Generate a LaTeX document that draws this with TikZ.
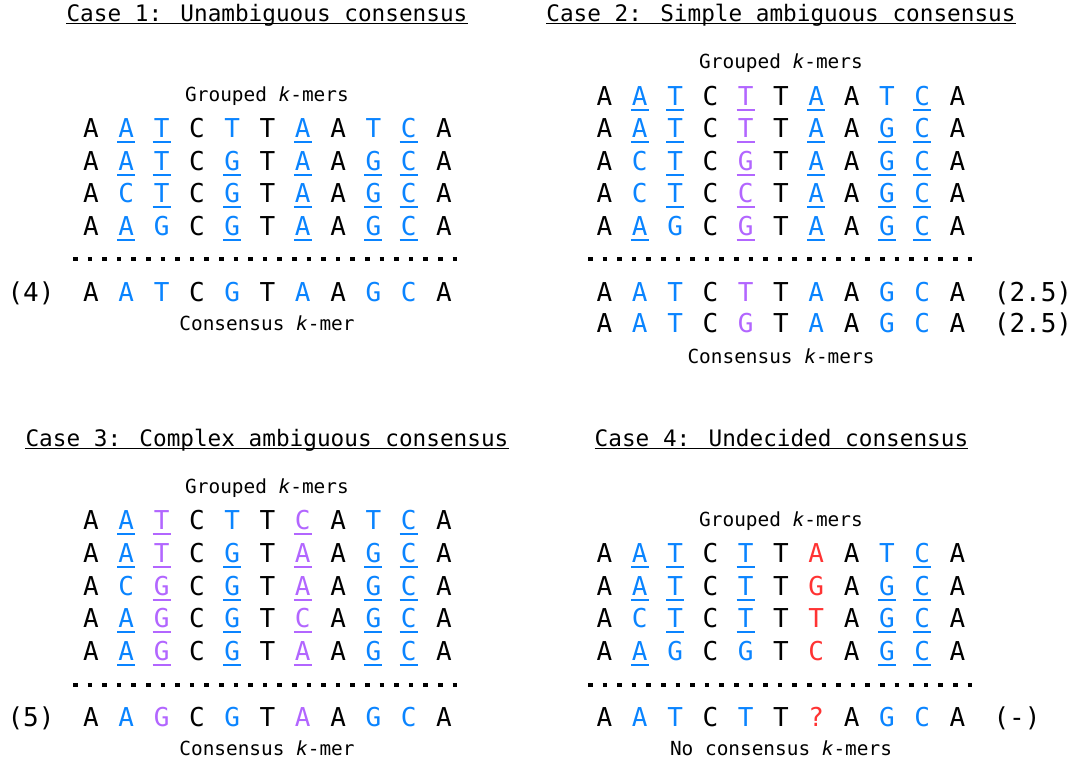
\documentclass[tikz,border=0pt]{standalone}
\usepackage{fontspec}
\newfontfamily\monof{DejaVu Sans Mono}
\definecolor{kk}{HTML}{000000}
\definecolor{kb}{HTML}{0A84FF}
\definecolor{kp}{HTML}{B266FF}
\definecolor{kr}{HTML}{FF3333}
\tikzset{
  nuc/.style={font=\monof\fontsize{26}{26}\selectfont, inner sep=0pt, text height=19pt, text depth=0pt, anchor=center},
  ulin/.style={line width=2pt},
  lbl/.style={font=\monof\fontsize{19.4}{19.4}\selectfont, inner sep=0pt, anchor=base},
  ttl/.style={font=\monof\fontsize{22.7}{22.7}\selectfont, inner sep=0pt, anchor=base},
  dotline/.style={line width=4.6pt, dash pattern=on 4.6pt off 10pt},
}
\newcommand\kmrow[4]{%
  \foreach[count=\ki] \kc/\kl/\ku in {#4}{%
    \node[nuc,text=\kc] (#1-\ki) at ({#2+(\ki-1)*35.3},#3) {\kl};
    \ifnum\ku=1 \draw[ulin,draw=\kc] ([xshift=-9pt,yshift=-14pt]#1-\ki.center) -- ([xshift=9pt,yshift=-14pt]#1-\ki.center);\fi
  }%
}
\begin{document}
\begin{tikzpicture}[x=1pt,y=-1pt]
\useasboundingbox (0,0) rectangle (1080,763);

% ---------- Titles ----------
\node[ttl] (t1) at (267,21) {Case 1: Unambiguous consensus};
\node[ttl] (t2) at (781,21) {Case 2: Simple ambiguous consensus};
\node[ttl] (t3) at (267,446) {Case 3: Complex ambiguous consensus};
\node[ttl] (t4) at (781.5,446) {Case 4: Undecided consensus};
\foreach \t in {t1,t2,t3,t4}{
  \draw[line width=1.4pt] ([yshift=-2.2pt]\t.base west) -- ([yshift=-2.2pt]\t.base east);
}

% ---------- Case 1 ----------
\node[lbl] (g1) at (267,101.5) {Grouped {\itshape k}-mers};
\kmrow{a1}{91}{128}{kk/A/0,kb/A/1,kb/T/1,kk/C/0,kb/T/0,kk/T/0,kb/A/1,kk/A/0,kb/T/0,kb/C/1,kk/A/0}
\kmrow{a2}{91}{161}{kk/A/0,kb/A/1,kb/T/1,kk/C/0,kb/G/1,kk/T/0,kb/A/1,kk/A/0,kb/G/1,kb/C/1,kk/A/0}
\kmrow{a3}{91}{193}{kk/A/0,kb/C/0,kb/T/1,kk/C/0,kb/G/1,kk/T/0,kb/A/1,kk/A/0,kb/G/1,kb/C/1,kk/A/0}
\kmrow{a4}{91}{226}{kk/A/0,kb/A/1,kb/G/0,kk/C/0,kb/G/1,kk/T/0,kb/A/1,kk/A/0,kb/G/1,kb/C/1,kk/A/0}
\coordinate (d1s) at (73,259);
\coordinate (d1e) at (457,259);
\draw[dotline] (d1s) -- (d1e);
\kmrow{ac}{91}{292}{kk/A/0,kb/A/0,kb/T/0,kk/C/0,kb/G/0,kk/T/0,kb/A/0,kk/A/0,kb/G/0,kb/C/0,kk/A/0}
\node[nuc] (n1) at (31,292) {(4)};
\node[lbl] (c1) at (267,330) {Consensus {\itshape k}-mer};

% ---------- Case 2 ----------
\node[lbl] (g2) at (781,68) {Grouped {\itshape k}-mers};
\kmrow{b1}{604.5}{96}{kk/A/0,kb/A/1,kb/T/1,kk/C/0,kp/T/1,kk/T/0,kb/A/1,kk/A/0,kb/T/0,kb/C/1,kk/A/0}
\kmrow{b2}{604.5}{128}{kk/A/0,kb/A/1,kb/T/1,kk/C/0,kp/T/1,kk/T/0,kb/A/1,kk/A/0,kb/G/1,kb/C/1,kk/A/0}
\kmrow{b3}{604.5}{161}{kk/A/0,kb/C/0,kb/T/1,kk/C/0,kp/G/1,kk/T/0,kb/A/1,kk/A/0,kb/G/1,kb/C/1,kk/A/0}
\kmrow{b4}{604.5}{193}{kk/A/0,kb/C/0,kb/T/1,kk/C/0,kp/C/1,kk/T/0,kb/A/1,kk/A/0,kb/G/1,kb/C/1,kk/A/0}
\kmrow{b5}{604.5}{226}{kk/A/0,kb/A/1,kb/G/0,kk/C/0,kp/G/1,kk/T/0,kb/A/1,kk/A/0,kb/G/1,kb/C/1,kk/A/0}
\coordinate (d2s) at (588,259);
\coordinate (d2e) at (972,259);
\draw[dotline] (d2s) -- (d2e);
\kmrow{bc}{604.5}{292}{kk/A/0,kb/A/0,kb/T/0,kk/C/0,kp/T/0,kk/T/0,kb/A/0,kk/A/0,kb/G/0,kb/C/0,kk/A/0}
\kmrow{bd}{604.5}{323}{kk/A/0,kb/A/0,kb/T/0,kk/C/0,kp/G/0,kk/T/0,kb/A/0,kk/A/0,kb/G/0,kb/C/0,kk/A/0}
\node[nuc] (n2a) at (1033,292) {(2.5)};
\node[nuc] (n2b) at (1033,323) {(2.5)};
\node[lbl] (c2) at (781,363) {Consensus {\itshape k}-mers};

% ---------- Case 3 ----------
\node[lbl] (g3) at (267,493) {Grouped {\itshape k}-mers};
\kmrow{c1r}{91}{520}{kk/A/0,kb/A/1,kp/T/1,kk/C/0,kb/T/0,kk/T/0,kp/C/1,kk/A/0,kb/T/0,kb/C/1,kk/A/0}
\kmrow{c2r}{91}{553}{kk/A/0,kb/A/1,kp/T/1,kk/C/0,kb/G/1,kk/T/0,kp/A/1,kk/A/0,kb/G/1,kb/C/1,kk/A/0}
\kmrow{c3r}{91}{586}{kk/A/0,kb/C/0,kp/G/1,kk/C/0,kb/G/1,kk/T/0,kp/A/1,kk/A/0,kb/G/1,kb/C/1,kk/A/0}
\kmrow{c4r}{91}{618}{kk/A/0,kb/A/1,kp/G/1,kk/C/0,kb/G/1,kk/T/0,kp/C/1,kk/A/0,kb/G/1,kb/C/1,kk/A/0}
\kmrow{c5r}{91}{651}{kk/A/0,kb/A/1,kp/G/1,kk/C/0,kb/G/1,kk/T/0,kp/A/1,kk/A/0,kb/G/1,kb/C/1,kk/A/0}
\coordinate (d3s) at (73,685);
\coordinate (d3e) at (457,685);
\draw[dotline] (d3s) -- (d3e);
\kmrow{cc}{91}{717}{kk/A/0,kb/A/0,kp/G/0,kk/C/0,kb/G/0,kk/T/0,kp/A/0,kk/A/0,kb/G/0,kb/C/0,kk/A/0}
\node[nuc] (n3) at (31,717) {(5)};
\node[lbl] (c3) at (267,755) {Consensus {\itshape k}-mer};

% ---------- Case 4 ----------
\node[lbl] (g4) at (781,526) {Grouped {\itshape k}-mers};
\kmrow{d1r}{604.5}{553}{kk/A/0,kb/A/1,kb/T/1,kk/C/0,kb/T/1,kk/T/0,kr/A/0,kk/A/0,kb/T/0,kb/C/1,kk/A/0}
\kmrow{d2r}{604.5}{586}{kk/A/0,kb/A/1,kb/T/1,kk/C/0,kb/T/1,kk/T/0,kr/G/0,kk/A/0,kb/G/1,kb/C/1,kk/A/0}
\kmrow{d3r}{604.5}{618}{kk/A/0,kb/C/0,kb/T/1,kk/C/0,kb/T/1,kk/T/0,kr/T/0,kk/A/0,kb/G/1,kb/C/1,kk/A/0}
\kmrow{d4r}{604.5}{651}{kk/A/0,kb/A/1,kb/G/0,kk/C/0,kb/G/0,kk/T/0,kr/C/0,kk/A/0,kb/G/1,kb/C/1,kk/A/0}
\coordinate (d4s) at (588,685);
\coordinate (d4e) at (972,685);
\draw[dotline] (d4s) -- (d4e);
\kmrow{dc}{604.5}{717}{kk/A/0,kb/A/0,kb/T/0,kk/C/0,kb/T/0,kk/T/0,kr/?/0,kk/A/0,kb/G/0,kb/C/0,kk/A/0}
\node[nuc] (n4) at (1017,717) {(-)};
\node[lbl] (c4) at (781,755) {No consensus {\itshape k}-mers};
\end{tikzpicture}
\end{document}
